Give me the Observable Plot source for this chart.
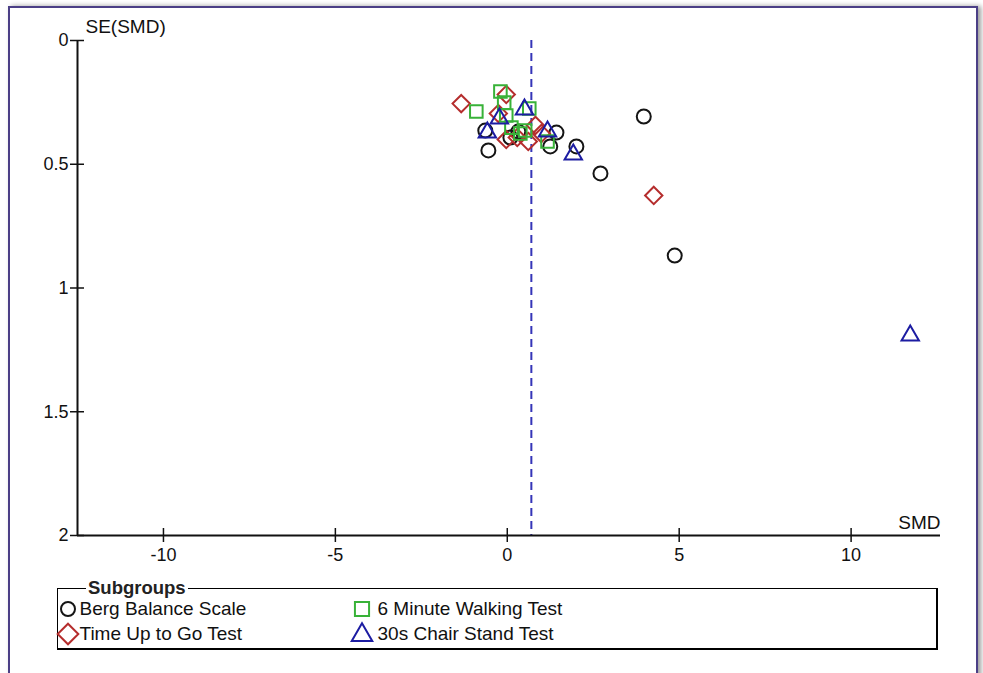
<!DOCTYPE html>
<html><head><meta charset="utf-8">
<script src="https://cdn.jsdelivr.net/npm/d3@7"></script>
<script src="https://cdn.jsdelivr.net/npm/@observablehq/plot@0.6"></script>
<style>
html,body{margin:0;padding:0;background:#fff;width:983px;height:673px;overflow:hidden;font-family:"Liberation Sans",Arial,sans-serif;}
#frame{position:absolute;left:8px;top:6px;width:966px;height:720px;border:2px solid #4b3f86;box-shadow:3px 0 5px #9a9a9a;background:#fff;}
#chart{position:absolute;left:0;top:0;}
#legend{position:absolute;left:57px;top:588px;width:881px;height:62px;border:1.5px solid #000;border-right-width:2px;border-bottom-width:2px;box-sizing:border-box;}
#legend .ttl{position:absolute;left:28px;top:-10px;background:#fff;padding:0 2px;font-weight:bold;font-size:18.5px;line-height:18px;color:#222;}
.item{position:absolute;height:24px;display:flex;align-items:center;font-size:19px;line-height:20px;color:#111;white-space:nowrap;}
.item svg{flex:none;}
</style></head>
<body>
<div id="frame"></div>
<div id="chart"></div>
<div id="legend"><span class="ttl">Subgroups</span></div>
<script>
// ---- data ----
const groups = ["Berg Balance Scale", "Time Up to Go Test", "6 Minute Walking Test", "30s Chair Stand Test"];
const xTicks = [-10, -5, 0, 5, 10];
const yTicks = [0, 0.5, 1, 1.5, 2];
const pooledSMD = 0.70;

const bergSMD = [-0.64, -0.55, 0.09, 0.32, 1.43, 1.25, 2.01, 2.71, 3.97, 4.87];
const bergSE  = [0.364, 0.444, 0.392, 0.368, 0.372, 0.428, 0.428, 0.537, 0.307, 0.869];

const tugSMD = [-1.34, -0.26, -0.03, -0.03, 0.29, 0.61, 0.82, 0.99, 4.26];
const tugSE  = [0.255, 0.295, 0.218, 0.400, 0.392, 0.408, 0.343, 0.376, 0.626];

const mwtSMD = [-0.20, -0.90, -0.09, -0.03, 0.12, 0.52, 0.64, 0.38, 1.17];
const mwtSE  = [0.206, 0.287, 0.251, 0.303, 0.352, 0.364, 0.275, 0.376, 0.408];

const chairSMD = [-0.58, -0.23, 0.50, 1.17, 1.92, 11.72];
const chairSE  = [0.372, 0.315, 0.279, 0.368, 0.461, 1.192];

const xDomain = [-12.5, 12.6];
const yDomain = [0, 2];

// ---- build table ----
const series = [
  {name: groups[0], smd: bergSMD, se: bergSE, symbol: "circle", color: "#151515", r: 7, lr: 7},
  {name: groups[1], smd: tugSMD, se: tugSE, symbol: "diamond2", color: "#b52d2d", r: 7.8, lr: 9.3},
  {name: groups[2], smd: mwtSMD, se: mwtSE, symbol: "square2", color: "#38b238", r: 8, lr: 9},
  {name: groups[3], smd: chairSMD, se: chairSE, symbol: "triangle2", color: "#1c1ca2", r: 8.3, lr: 9.8}
];
const table = series.flatMap(s => s.smd.map((v, i) => ({group: s.name, smd: v, se: s.se[i]})));

const W = 983, H = 570, mL = 77, mR = 43, mT = 40, mB = 35;
const kx = 7 * (xDomain[1] - xDomain[0]) / (W - mL - mR);
const ky = 7 * (yDomain[1] - yDomain[0]) / (H - mT - mB);

const dotMarks = series.map(s => Plot.dot(table.filter(d => d.group === s.name), {
  x: "smd", y: "se", symbol: s.symbol, stroke: s.color, strokeWidth: 2, r: s.r, fill: "none"
}));

const chart = Plot.plot({
  width: W, height: H, marginLeft: mL, marginRight: mR, marginTop: mT, marginBottom: mB,
  style: {fontFamily: "'Liberation Sans', Arial, sans-serif", fontSize: "18px", background: "transparent", overflow: "visible", color: "#111"},
  x: {domain: xDomain, axis: null},
  y: {domain: yDomain, reverse: true, axis: null},
  marks: [
    Plot.ruleX([pooledSMD], {y1: yDomain[0], y2: yDomain[1], stroke: "#3535b8", strokeWidth: 2, strokeDasharray: "8,5"}),
    Plot.ruleY([yDomain[1]], {stroke: "#111", strokeWidth: 2}),
    Plot.ruleX([xDomain[0]], {y1: yDomain[0], y2: yDomain[1], stroke: "#111", strokeWidth: 2}),
    Plot.ruleY(yTicks, {y: d => d, x1: xDomain[0] - kx, x2: xDomain[0] + kx, stroke: "#111", strokeWidth: 1.5}),
    Plot.ruleX(xTicks, {x: d => d, y1: yDomain[1] - ky, y2: yDomain[1] + ky, stroke: "#111", strokeWidth: 1.5}),
    Plot.text(yTicks, {x: xDomain[0], y: d => d, text: d => String(d), textAnchor: "end", dx: -9, fontSize: 18}),
    Plot.text(xTicks, {x: d => d, y: yDomain[1], text: d => String(d), dy: 20, fontSize: 18}),
    Plot.text(["SE(SMD)"], {x: xDomain[0], y: yDomain[0], text: d => d, textAnchor: "start", dx: 8, dy: -14, fontSize: 19}),
    Plot.text(["SMD"], {x: xDomain[1], y: yDomain[1], text: d => d, textAnchor: "end", dy: -13, fontSize: 19}),
    ...dotMarks
  ]
});
document.getElementById("chart").appendChild(chart);

// ---- legend ----
const legend = document.getElementById("legend");
const pos = [[0, 0], [0, 1], [1, 0], [1, 1]];
const colX = [-1.5, 292.5], rowY = [8, 33], gap = [1, 5];
const symMap = {circle: d3.symbolCircle, diamond2: d3.symbolDiamond2, square2: d3.symbolSquare2, triangle2: d3.symbolTriangle2};
series.forEach((s, i) => {
  const [c, r] = pos[i];
  const div = document.createElement("div");
  div.className = "item";
  div.style.left = colX[c] + "px";
  div.style.top = rowY[r] + "px";
  const svg = d3.create("svg").attr("width", 22).attr("height", 24).style("margin-right", gap[c] + "px").style("overflow", "visible");
  svg.append("path")
    .attr("transform", s.symbol === "triangle2" ? "translate(11,13)" : "translate(11,12)")
    .attr("d", d3.symbol(symMap[s.symbol], Math.PI * s.lr * s.lr)())
    .attr("fill", "none").attr("stroke", s.color).attr("stroke-width", 2);
  div.appendChild(svg.node());
  const span = document.createElement("span");
  span.textContent = s.name;
  div.appendChild(span);
  legend.appendChild(div);
});
</script>
</body></html>
